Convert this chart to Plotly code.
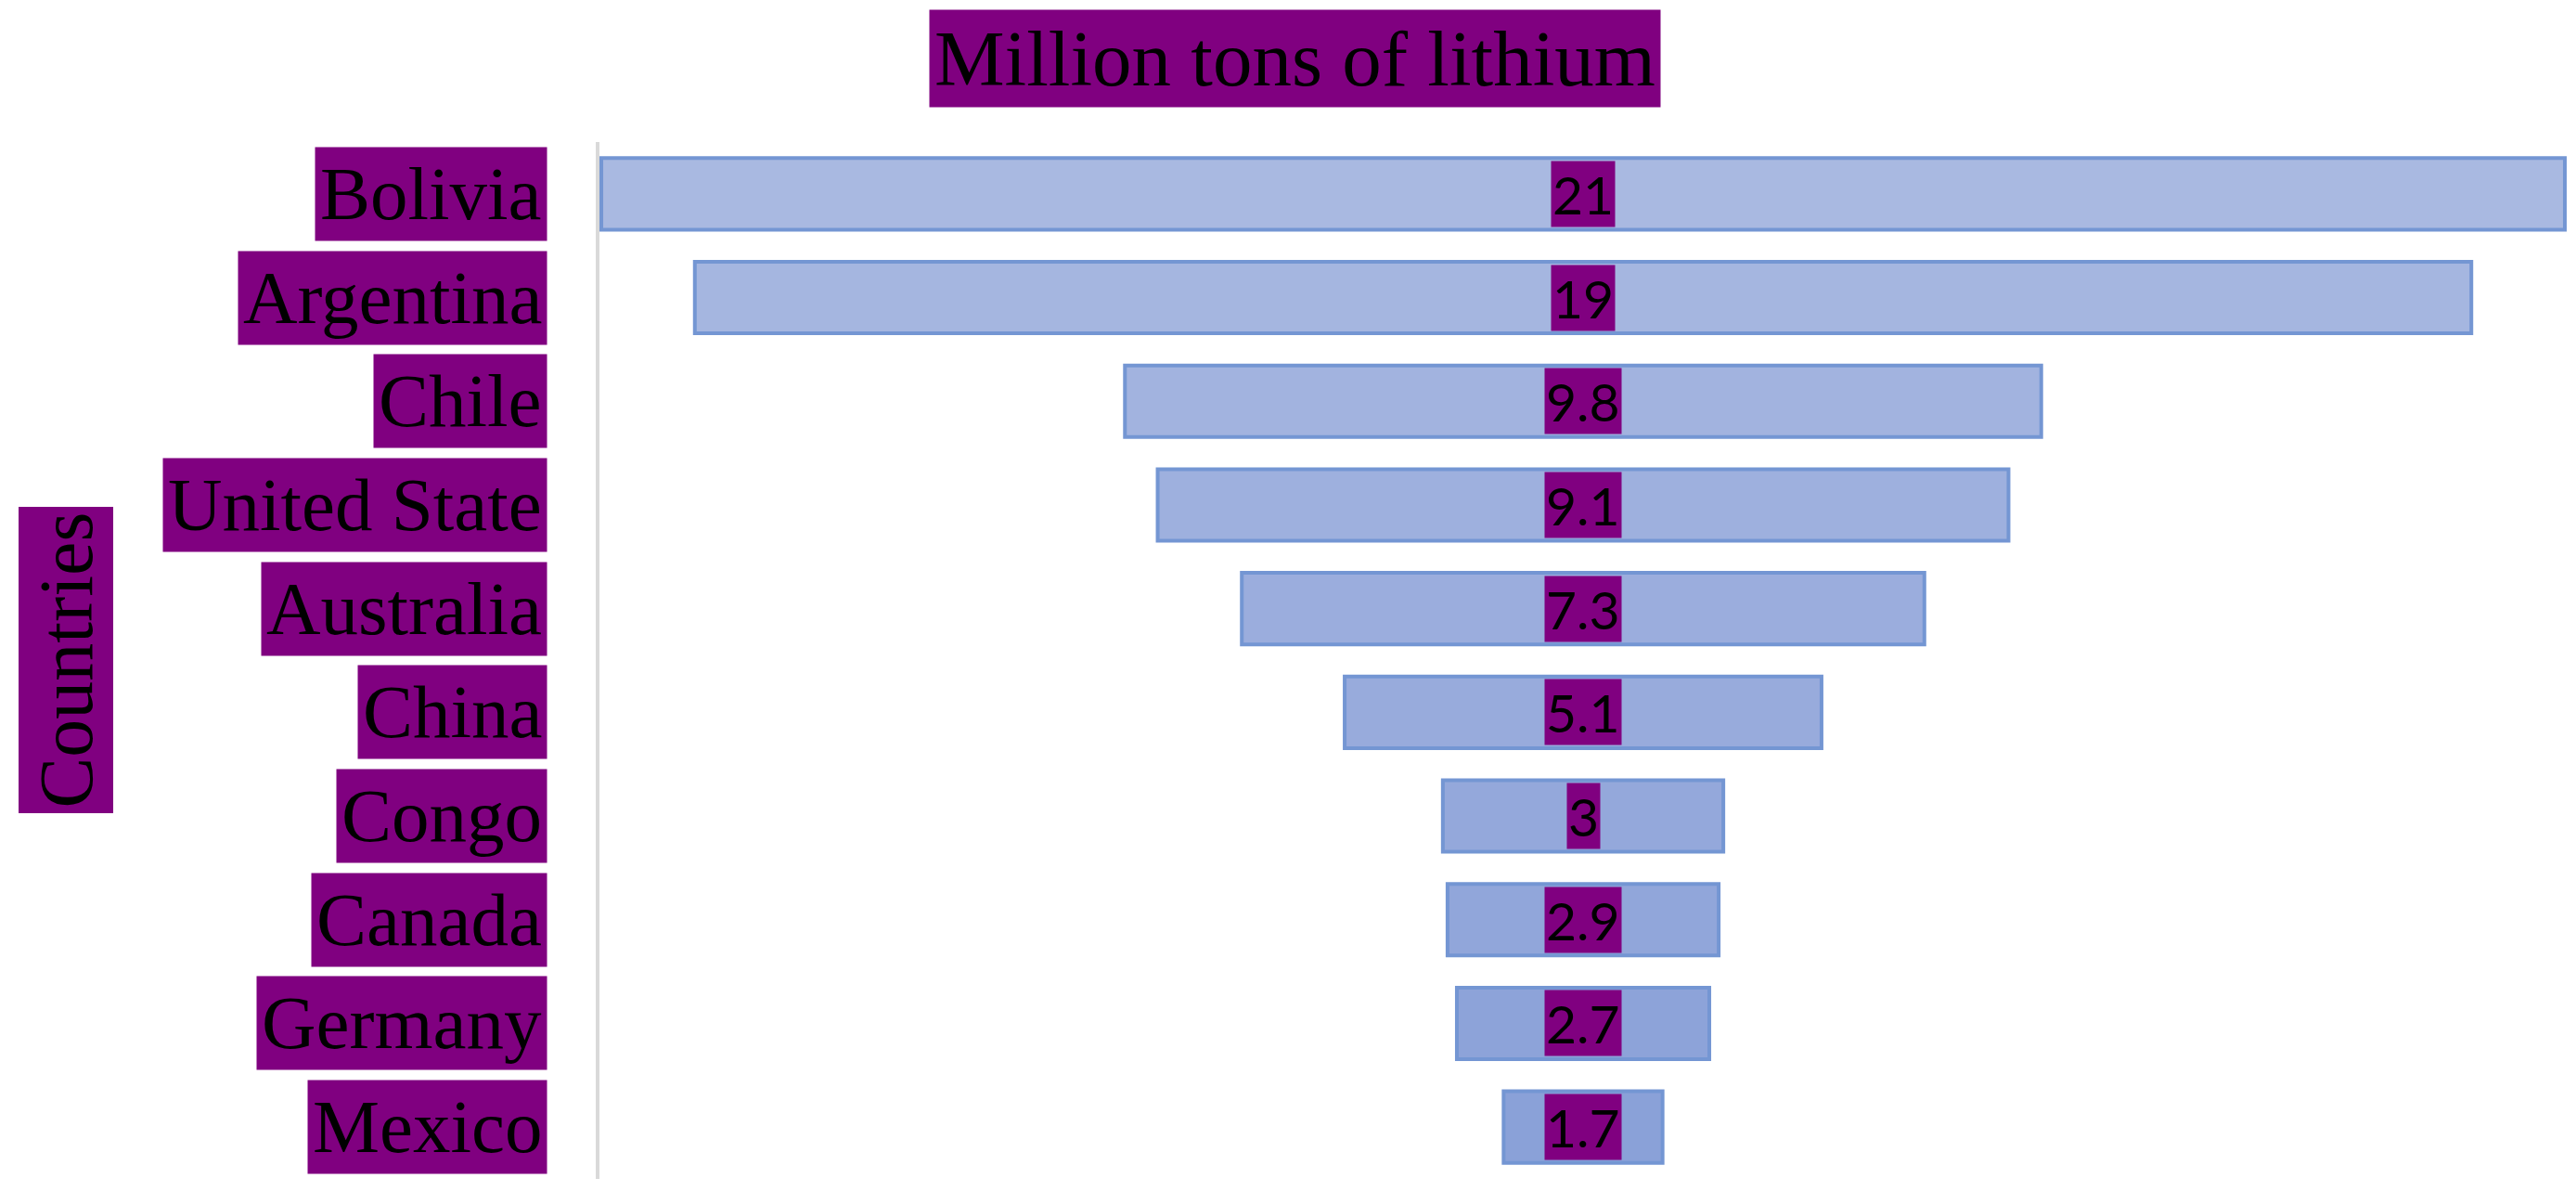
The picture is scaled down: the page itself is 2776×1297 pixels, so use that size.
import plotly.graph_objects as go

countries = ["Bolivia", "Argentina", "Chile", "United State", "Australia",
             "China", "Congo", "Canada", "Germany", "Mexico"]
reserves = [21, 19, 9.8, 9.1, 7.3, 5.1, 3, 2.9, 2.7, 1.7]
value_labels = ["21", "19", "9.8", "9.1", "7.3", "5.1", "3", "2.9", "2.7", "1.7"]

TITLE = "Million tons of lithium"
AXIS_TITLE = "Countries"

# fill gets a touch darker towards the bottom of the funnel
BAR_FILL = ["#A9B9E1", "#A5B6E0", "#A2B3DF", "#9EB0DE", "#9BADDD",
            "#98ABDC", "#94A8DB", "#91A6DA", "#8DA3D9", "#8AA1D8"]
PURPLE = "#800080"
SERIF = "Liberation Serif"
SANS = "Lato"

fig = go.Figure(go.Funnel(
    y=countries, x=reserves, textinfo="none",
    marker=dict(color=BAR_FILL, line=dict(color="#7496D3", width=4)),
    connector=dict(visible=False),
    hovertemplate="<b>%{y}</b>: %{x}<extra></extra>",
))

annotations = []
for c, lab in zip(countries, value_labels):
    # category label, boxed, left of the axis line
    annotations.append(dict(
        x=0, xref="paper", y=c, yref="y", xanchor="right", yanchor="middle",
        xshift=-56, text=c, showarrow=False, bgcolor=PURPLE, borderpad=5,
        font=dict(family=SERIF, size=81, color="black")))
    # value label, boxed, in the middle of the bar
    annotations.append(dict(
        x=0, xref="x", y=c, yref="y", xanchor="center", yanchor="middle",
        text=lab, showarrow=False, bgcolor=PURPLE, borderpad=1,
        font=dict(family=SANS, size=57, color="black")))

annotations.append(dict(
    x=0, xref="paper", y=0.5, yref="paper", xanchor="center", yanchor="middle",
    xshift=-575, text=AXIS_TITLE, textangle=-90, showarrow=False,
    bgcolor=PURPLE, borderpad=5, font=dict(family=SERIF, size=82, color="black")))
annotations.append(dict(
    x=0.3535, xref="paper", y=1, yref="paper", xanchor="center",
    yanchor="middle", yshift=90, text=TITLE, showarrow=False,
    bgcolor=PURPLE, borderpad=5, font=dict(family=SERIF, size=85, color="black")))

# page body has an 8px margin, so the figure is drawn 8px in from the corner
fig.update_layout(
    width=2768, height=1289, paper_bgcolor="white", plot_bgcolor="white",
    margin=dict(l=638, r=10, t=145, b=27), showlegend=False,
    funnelgap=0.31, annotations=annotations,
    xaxis=dict(range=[-10.52, 10.52], visible=False, fixedrange=True),
    yaxis=dict(showticklabels=False, showgrid=False, zeroline=False,
               showline=True, linecolor="#D9D9D9", linewidth=4, ticks=""),
)

fig.write_html("out.html")
